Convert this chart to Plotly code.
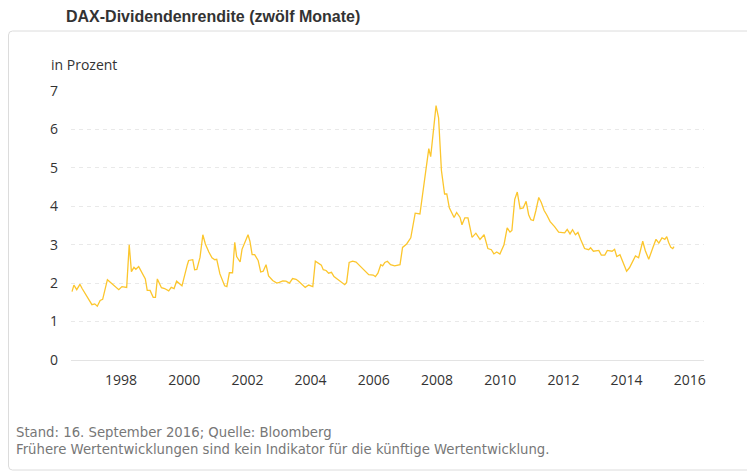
import plotly.graph_objects as go

# DAX dividend yield (decimal year, percent)
years = [
    1996.45, 1996.51, 1996.60, 1996.70, 1996.77, 1996.93, 1997.02, 1997.08, 1997.17, 1997.25,
    1997.34, 1997.42, 1997.57, 1997.69, 1997.93, 1998.03, 1998.18, 1998.26, 1998.33, 1998.41,
    1998.47, 1998.56, 1998.69, 1998.77, 1998.83, 1998.92, 1999.02, 1999.09, 1999.15, 1999.28,
    1999.38, 1999.51, 1999.59, 1999.68, 1999.76, 1999.93, 2000.10, 2000.14, 2000.27, 2000.33,
    2000.40, 2000.50, 2000.59, 2000.67, 2000.78, 2000.88, 2000.97, 2001.03, 2001.13, 2001.28,
    2001.35, 2001.43, 2001.53, 2001.60, 2001.66, 2001.77, 2001.83, 2001.93, 2002.02, 2002.08,
    2002.15, 2002.23, 2002.34, 2002.42, 2002.50, 2002.59, 2002.67, 2002.80, 2002.93, 2003.01,
    2003.12, 2003.22, 2003.33, 2003.43, 2003.54, 2003.62, 2003.73, 2003.83, 2003.94, 2004.07,
    2004.15, 2004.26, 2004.34, 2004.40, 2004.49, 2004.57, 2004.66, 2004.74, 2004.87, 2004.99,
    2005.08, 2005.14, 2005.22, 2005.33, 2005.44, 2005.56, 2005.71, 2005.84, 2005.98, 2006.05,
    2006.13, 2006.22, 2006.28, 2006.35, 2006.43, 2006.53, 2006.66, 2006.79, 2006.83, 2006.91,
    2007.04, 2007.17, 2007.31, 2007.46, 2007.50, 2007.63, 2007.74, 2007.80, 2007.88, 2007.97,
    2008.05, 2008.14, 2008.24, 2008.31, 2008.39, 2008.54, 2008.62, 2008.73, 2008.79, 2008.88,
    2008.98, 2009.11, 2009.23, 2009.36, 2009.49, 2009.61, 2009.72, 2009.80, 2009.89, 2009.99,
    2010.12, 2010.22, 2010.31, 2010.37, 2010.46, 2010.54, 2010.63, 2010.73, 2010.82, 2010.90,
    2010.97, 2011.05, 2011.13, 2011.22, 2011.30, 2011.39, 2011.47, 2011.58, 2011.72, 2011.85,
    2012.04, 2012.12, 2012.21, 2012.29, 2012.38, 2012.46, 2012.55, 2012.67, 2012.80, 2012.86,
    2012.95, 2013.12, 2013.20, 2013.31, 2013.39, 2013.54, 2013.62, 2013.69, 2013.79, 2013.90,
    2014.00, 2014.09, 2014.17, 2014.28, 2014.38, 2014.51, 2014.59, 2014.70, 2014.83, 2014.93,
    2015.02, 2015.12, 2015.21, 2015.27, 2015.33, 2015.40, 2015.46, 2015.50,
]
yield_pct = [
    1.78, 1.95, 1.83, 1.97, 1.86, 1.66, 1.55, 1.44, 1.46, 1.40,
    1.55, 1.58, 2.09, 2.00, 1.83, 1.91, 1.89, 3.00, 2.30, 2.41,
    2.36, 2.43, 2.24, 2.11, 1.81, 1.81, 1.63, 1.63, 2.11, 1.88,
    1.86, 1.80, 1.89, 1.86, 2.05, 1.93, 2.48, 2.59, 2.61, 2.35,
    2.36, 2.67, 3.26, 3.02, 2.81, 2.66, 2.61, 2.62, 2.24, 1.93,
    1.91, 2.27, 2.27, 3.06, 2.69, 2.55, 2.88, 3.06, 3.26, 3.09,
    2.74, 2.74, 2.59, 2.29, 2.31, 2.48, 2.19, 2.07, 2.00, 2.02,
    2.06, 2.05, 2.00, 2.12, 2.10, 2.05, 1.96, 1.89, 1.95, 1.91,
    2.57, 2.52, 2.47, 2.35, 2.33, 2.26, 2.28, 2.17, 2.09, 2.02,
    1.96, 2.02, 2.54, 2.57, 2.55, 2.45, 2.33, 2.22, 2.21, 2.17,
    2.26, 2.48, 2.45, 2.54, 2.57, 2.48, 2.45, 2.47, 2.48, 2.93,
    3.02, 3.18, 3.82, 3.80, 4.03, 4.81, 5.50, 5.29, 5.88, 6.62,
    6.30, 4.93, 4.32, 4.32, 3.96, 3.71, 3.84, 3.71, 3.52, 3.70,
    3.70, 3.19, 3.30, 3.14, 3.26, 2.90, 2.87, 2.76, 2.81, 2.76,
    3.00, 3.44, 3.33, 3.37, 4.18, 4.37, 3.94, 3.96, 4.13, 3.78,
    3.65, 3.63, 3.89, 4.23, 4.10, 3.89, 3.78, 3.60, 3.47, 3.33,
    3.31, 3.40, 3.28, 3.39, 3.26, 3.32, 3.13, 2.90, 2.87, 2.92,
    2.83, 2.85, 2.73, 2.73, 2.85, 2.83, 2.88, 2.69, 2.74, 2.50,
    2.31, 2.40, 2.55, 2.71, 2.66, 3.09, 2.85, 2.62, 2.92, 3.14,
    3.04, 3.18, 3.14, 3.21, 3.06, 2.93, 2.90, 2.95,
]
tick_years = [1998, 2000, 2002, 2004, 2006, 2008, 2010, 2012, 2014, 2016]
y_ticks = [0, 1, 2, 3, 4, 5, 6, 7]

# the page body has an 8px margin, so the figure is a bit smaller
W, H = 747, 468
L, R, T, B = 63, 51, 83, 116
pw, ph = W - L - R, H - T - B


def px(x):
    return (x - L) / pw


def py(y):
    return (H - B - y) / ph


fig = go.Figure()
fig.add_trace(go.Scatter(
    x=years, y=yield_pct, mode="lines",
    line=dict(color="#fcc62d", width=1.3),
    hovertemplate="%{y:.2f} %<extra></extra>",
    showlegend=False,
))

# card frame around the chart
x0, x1, y0, y1, r = px(0.5), px(743), py(462), py(23), 4
rx, ry = r / pw, r / ph
path = (f"M {x0 + rx},{y1} L {x1 - rx},{y1} Q {x1},{y1} {x1},{y1 - ry} "
        f"L {x1},{y0 + ry} Q {x1},{y0} {x1 - rx},{y0} L {x0 + rx},{y0} "
        f"Q {x0},{y0} {x0},{y0 + ry} L {x0},{y1 - ry} Q {x0},{y1} {x0 + rx},{y1} Z")
fig.add_shape(type="path", path=path, xref="paper", yref="paper",
              line=dict(color="#dcdcdc", width=1), layer="below")

foot_font = dict(family="DejaVu Sans, Verdana, sans-serif", size=13.25, color="#777777")

fig.update_layout(
    width=W, height=H,
    margin=dict(l=L, r=R, t=T, b=B),
    paper_bgcolor="white", plot_bgcolor="white",
    font=dict(family="Open Sans, Noto Sans, sans-serif", size=14, color="#333333"),
    xaxis=dict(
        range=[1996.418, 2016.449],
        tickvals=tick_years, ticktext=[str(t) for t in tick_years],
        showgrid=False, zeroline=False,
        showline=False, ticks="", ticklabelstandoff=10,
        tickfont=dict(size=14, color="#333333"),
    ),
    yaxis=dict(
        range=[0, 7.0],
        tickvals=y_ticks,
        showgrid=True, gridcolor="#e9e9e9", gridwidth=1, griddash="4px,4px",
        zeroline=True, zerolinecolor="#e3e3e3", zerolinewidth=1,
        ticks="", ticklabelstandoff=12,
        tickfont=dict(size=14, color="#333333"),
    ),
    annotations=[
        dict(text="<b>DAX-Dividendenrendite (zwölf Monate)</b>",
             x=px(56), y=py(8), xref="paper", yref="paper",
             xanchor="left", yanchor="middle", showarrow=False,
             font=dict(family="Liberation Sans, Arial, sans-serif", size=16, color="#333333")),
        dict(text="in Prozent",
             x=px(41), y=py(56), xref="paper", yref="paper",
             xanchor="left", yanchor="middle", showarrow=False,
             font=dict(size=14, color="#333333")),
        dict(text="Stand: 16. September 2016; Quelle: Bloomberg",
             x=px(6), y=py(425), xref="paper", yref="paper",
             xanchor="left", yanchor="middle", showarrow=False,
             font=foot_font),
        dict(text="Frühere Wertentwicklungen sind kein Indikator für die künftige Wertentwicklung.",
             x=px(6), y=py(441), xref="paper", yref="paper",
             xanchor="left", yanchor="middle", showarrow=False,
             font=foot_font),
    ],
)

fig.write_html("out.html")
